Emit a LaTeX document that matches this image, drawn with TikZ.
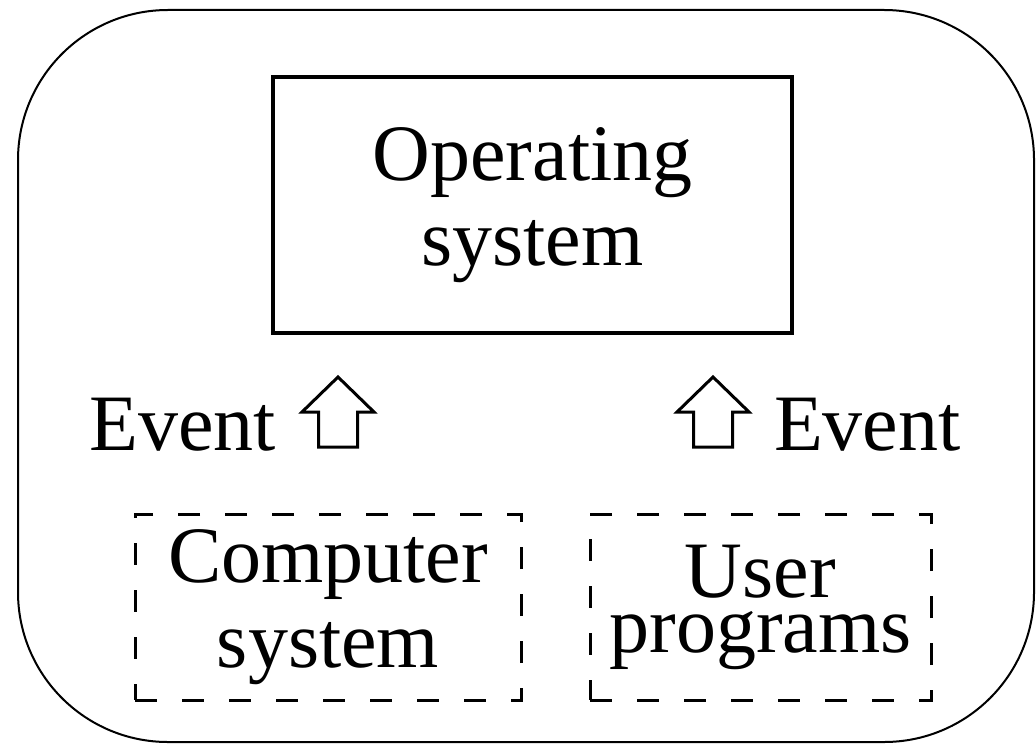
\documentclass[tikz,border=0pt]{standalone}
\usepackage{fontspec}
\setmainfont{Liberation Serif}
\tikzset{
  osbox/.style={draw,line width=0.7pt,minimum width=103.8pt,minimum height=51.2pt,
    align=center,font=\fontsize{16}{17}\selectfont},
  srcbox/.style={draw,dashed,dash pattern=on 4.4pt off 5pt,line width=0.6pt,
    minimum height=37.2pt,align=center,inner sep=0pt},
  evlabel/.style={inner sep=0pt,font=\fontsize{16}{17}\selectfont},
  blockarr/.style={line width=0.6pt}
}

\begin{document}
\begin{tikzpicture}[x=0.2pt,y=-0.2pt]
    \useasboundingbox (0,0) rectangle (1036,745);
    % outer frame
    \draw[line width=0.4pt,rounded corners=30pt] (18,10) rectangle (1034,742);
    \node[osbox] (os) at (532.5,205) {Operating\\system};
    \node[srcbox,minimum width=77.2pt,font=\fontsize{16}{17}\selectfont] (comp) at (328,607) {Computer\\system};
    \node[srcbox,minimum width=68.2pt,font=\fontsize{16}{11}\selectfont] (user) at (760.5,607) {User\\programs};
    % hollow up arrows
    \foreach \tx in {338,713}
      \draw[blockarr] (\tx,377) -- ++(-36,35) -- ++(16.5,0) -- ++(0,35) -- ++(39,0)
        -- ++(0,-35) -- ++(16.5,0) -- cycle;
    \node[evlabel,anchor=base east] (evl) at (277,450) {Event};
    \node[evlabel,anchor=base west] (evr) at (773,450) {Event};
\end{tikzpicture}
\end{document}
